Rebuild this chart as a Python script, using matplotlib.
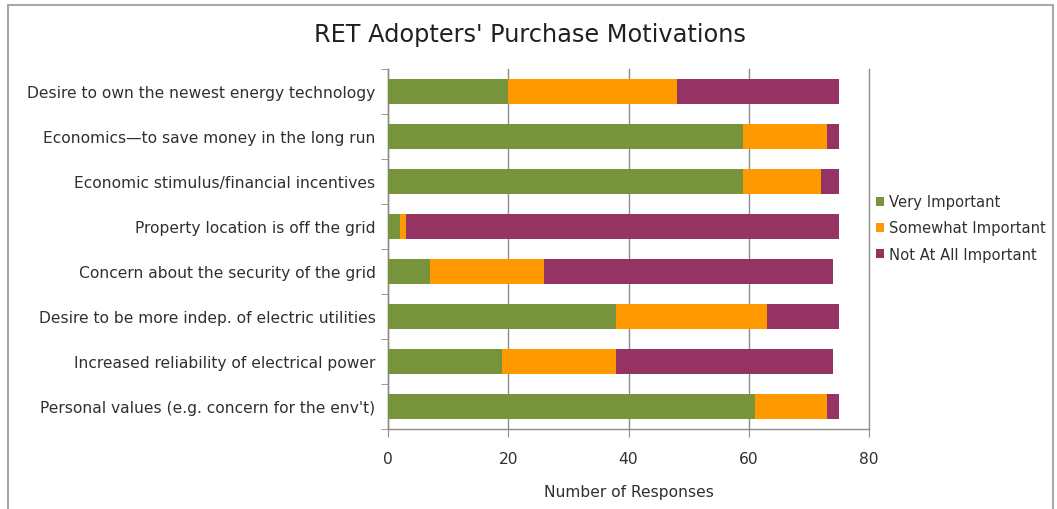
import matplotlib
matplotlib.use("Agg")
import matplotlib.pyplot as plt
from matplotlib.patches import Rectangle, Patch
import numpy as np

categories = [
    "Desire to own the newest energy technology",
    "Economics\u2014to save money in the long run",
    "Economic stimulus/financial incentives",
    "Property location is off the grid",
    "Concern about the security of the grid",
    "Desire to be more indep. of electric utilities",
    "Increased reliability of electrical power",
    "Personal values (e.g. concern for the env't)",
]
very_important = [20, 59, 59, 2, 7, 38, 19, 61]
somewhat_important = [28, 14, 13, 1, 19, 25, 19, 12]
not_at_all_important = [27, 2, 3, 72, 48, 12, 36, 2]
series_names = ["Very Important", "Somewhat Important", "Not At All Important"]
x_ticks = [0, 20, 40, 60, 80]

colors = ["#77933C", "#FF9900", "#953462"]
text_color = "#303030"
axis_gray = "#8C8C8C"

plt.rcParams["font.family"] = ["DejaVu Sans"]

fig = plt.figure(figsize=(10.57, 5.10), dpi=100)
fig.patch.set_facecolor("white")

# chart frame
fig.patches.append(Rectangle((8 / 1057, -0.1), (1053 - 8) / 1057, 1.1 - 6 / 510,
                             transform=fig.transFigure, fill=False,
                             edgecolor="#A8A8A8", linewidth=1.5))

ax = fig.add_axes([388 / 1057, 1 - 430 / 510, 481 / 1057, 360 / 510])

y = np.arange(len(categories))
left = np.zeros(len(categories))
for vals, col, name in zip([very_important, somewhat_important, not_at_all_important],
                           colors, series_names):
    ax.barh(y, vals, left=left, height=0.57, color=col, label=name, zorder=3)
    left += np.array(vals)

ax.set_ylim(len(categories) - 0.5, -0.5)
ax.set_xlim(0, 80)
ax.set_xticks(x_ticks)
ax.set_yticks(y)
ax.set_yticklabels(categories)
ax.set_yticks(np.arange(len(categories) + 1) - 0.5, minor=True)
ax.tick_params(axis="y", which="major", length=0, pad=9, labelsize=11.2,
               labelcolor=text_color)
ax.tick_params(axis="y", which="minor", length=5, color=axis_gray, direction="out")
ax.tick_params(axis="x", length=6, color=axis_gray, direction="out",
               labelsize=11.2, labelcolor=text_color, pad=10)

ax.grid(axis="x", color=axis_gray, linewidth=1, zorder=0)
for gl in ax.get_xgridlines():
    gl.set_clip_on(False)
for side in ["top", "right"]:
    ax.spines[side].set_visible(False)
for side in ["left", "bottom"]:
    ax.spines[side].set_color(axis_gray)
    ax.spines[side].set_linewidth(1)

ax.set_xlabel("Number of Responses", fontsize=11.2, color=text_color, labelpad=13)

fig.text(530 / 1057, 1 - 35 / 510, "RET Adopters' Purchase Motivations",
         ha="center", va="center", fontsize=17.3, color="#202020")

handles = [Patch(facecolor=c, edgecolor="none") for c in colors]
fig.legend(handles, series_names, loc="center left",
           bbox_to_anchor=(869 / 1057, 1 - 229 / 510), frameon=False,
           fontsize=10.6, labelcolor=text_color, handlelength=0.55,
           handleheight=0.55, handletextpad=0.3, labelspacing=0.75,
           borderpad=0)

fig.savefig("out.png", dpi=100, facecolor="white")
